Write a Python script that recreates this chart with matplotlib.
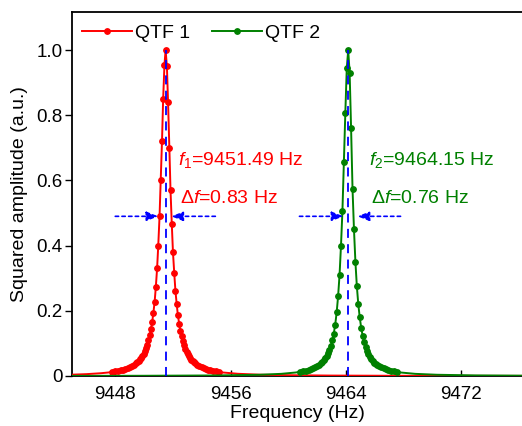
"""
Squared amplitude response of two quartz tuning forks (QTF 1 / QTF 2).
Frequency sweep data read from the reference figure, normalized to peak = 1.
"""

import matplotlib
matplotlib.use("Agg")
import matplotlib.pyplot as plt

plt.rcParams["font.family"] = ["Liberation Sans", "DejaVu Sans"]
plt.rcParams["mathtext.fontset"] = "custom"
plt.rcParams["mathtext.rm"] = "Liberation Sans"
plt.rcParams["mathtext.it"] = "Liberation Sans:italic"

# ---------------------------------------------------------------------------
# Data
# ---------------------------------------------------------------------------
F1 = 9451.49
F2 = 9464.15
DF1 = 0.83
DF2 = 0.76

qtf1_freq = [
    9445.0, 9446.0, 9447.0, 9447.5, 9447.8, 9448.0, 9448.2, 9448.4,
    9448.55, 9448.7, 9448.85, 9449.0, 9449.15, 9449.3,
    9449.45, 9449.54, 9449.62, 9449.71, 9449.79, 9449.88, 9449.96, 9450.05,
    9450.13, 9450.22, 9450.30, 9450.39, 9450.47, 9450.56, 9450.64, 9450.73,
    9450.81, 9450.90, 9450.98, 9451.07, 9451.15, 9451.24, 9451.32, 9451.41,
    9451.49,
    9451.58, 9451.66, 9451.75, 9451.83, 9451.92, 9452.00, 9452.09, 9452.17,
    9452.26, 9452.34, 9452.43, 9452.51, 9452.60, 9452.68, 9452.77, 9452.85,
    9452.94, 9453.02, 9453.11, 9453.19, 9453.28, 9453.36, 9453.45, 9453.53,
    9453.68, 9453.83, 9453.98, 9454.13, 9454.28, 9454.43, 9454.58, 9454.78,
    9454.98, 9455.18, 9455.5, 9456.5, 9458.0, 9460.0, 9463.0,
    9467.0, 9471.0, 9476.3,
]
qtf1_amp = [
    0.0041, 0.0057, 0.0085, 0.0107, 0.0125, 0.014, 0.0157, 0.0177,
    0.0195, 0.0216, 0.0241, 0.027, 0.0305, 0.0346,
    0.040, 0.043, 0.047, 0.051, 0.056, 0.062, 0.069, 0.077,
    0.086, 0.096, 0.109, 0.125, 0.143, 0.166, 0.193, 0.228,
    0.272, 0.33, 0.40, 0.49, 0.60, 0.72, 0.85, 0.955,
    1.0,
    0.95, 0.84, 0.70, 0.57, 0.465, 0.38, 0.315, 0.262,
    0.22, 0.187, 0.161, 0.139, 0.122, 0.107, 0.094, 0.084,
    0.075, 0.068, 0.061, 0.055, 0.050, 0.046, 0.042, 0.039,
    0.0346, 0.0305, 0.027, 0.0241, 0.0216, 0.0195, 0.0177, 0.0157,
    0.014, 0.0125, 0.0106, 0.0068, 0.0040, 0.0024, 0.0013,
    0.0007, 0.00045, 0.0003,
]

qtf2_freq = [
    9445.0, 9450.0, 9455.0, 9458.0, 9459.5, 9460.5, 9460.8, 9461.0,
    9461.2, 9461.4, 9461.55, 9461.7, 9461.85, 9462.0,
    9462.15, 9462.25, 9462.35, 9462.45, 9462.55, 9462.65, 9462.75, 9462.85,
    9462.95, 9463.05, 9463.15, 9463.25, 9463.35, 9463.45, 9463.55, 9463.65,
    9463.75, 9463.85, 9463.95, 9464.05,
    9464.15,
    9464.25, 9464.35, 9464.45, 9464.55, 9464.65, 9464.75, 9464.85, 9464.95,
    9465.05, 9465.15, 9465.25, 9465.35, 9465.45, 9465.55, 9465.65, 9465.75,
    9465.85, 9465.95, 9466.05, 9466.15,
    9466.3, 9466.45, 9466.6, 9466.75, 9466.9, 9467.1, 9467.3, 9467.5,
    9467.8, 9468.8, 9470.3, 9473.0, 9476.3,
]
qtf2_amp = [
    0.0004, 0.0007, 0.0017, 0.0038, 0.0066, 0.0107, 0.0127, 0.0143,
    0.0163, 0.0187, 0.0209, 0.0235, 0.0266, 0.0303,
    0.035, 0.039, 0.043, 0.048, 0.054, 0.061, 0.070, 0.080,
    0.093, 0.109, 0.13, 0.158, 0.195, 0.245, 0.31, 0.40,
    0.507, 0.656, 0.806, 0.944,
    1.0,
    0.93, 0.76, 0.574, 0.45, 0.35, 0.275, 0.22, 0.18,
    0.148, 0.124, 0.105, 0.090, 0.078, 0.068, 0.059, 0.052,
    0.046, 0.041, 0.037, 0.034,
    0.0303, 0.0266, 0.0235, 0.0209, 0.0187, 0.0163, 0.0143, 0.0127,
    0.0107, 0.0066, 0.0038, 0.0018, 0.001,
]

xticks = [9448, 9456, 9464, 9472]
yticks = [0, 0.2, 0.4, 0.6, 0.8, 1.0]
ytick_labels = ["0", "0.2", "0.4", "0.6", "0.8", "1.0"]

# half-maximum arrows: (tail, head) frequencies
half_y = 0.49
qtf1_arrows = [(9448.0, 9450.98), (9454.94, 9451.89)]
qtf2_arrows = [(9460.77, 9463.82), (9467.78, 9464.80)]

RED = "#ff0000"
GREEN = "#008000"
BLUE = "#0000ff"

# ---------------------------------------------------------------------------
# Figure
# ---------------------------------------------------------------------------
fig = plt.figure(figsize=(5.22, 4.26), dpi=100)
ax = fig.add_axes([72 / 522, 1 - 376 / 426, 450 / 522, 364 / 426])


def marker_mask(amps, cut=0.0115):
    # the sweep points merge into a plain line far out in the wings
    return [a > cut for a in amps]


ax.plot(qtf1_freq, qtf1_amp, "-o", color=RED, lw=1.4, ms=3.9,
        markevery=marker_mask(qtf1_amp), label="QTF 1", zorder=3)
ax.plot(qtf2_freq, qtf2_amp, "-o", color=GREEN, lw=1.4, ms=3.9,
        markevery=marker_mask(qtf2_amp), label="QTF 2", zorder=4)

for f0 in (F1, F2):
    ax.plot([f0, f0], [0, 1.0], color=BLUE, lw=1.3, dashes=(5, 3.5), zorder=5)

for tail, head in qtf1_arrows + qtf2_arrows:
    ax.annotate("", xy=(head, half_y), xytext=(tail, half_y),
                arrowprops=dict(arrowstyle="-|>,head_length=0.5,head_width=0.2",
                                color=BLUE, lw=1.2, linestyle=(0, (2, 2)),
                                shrinkA=0, shrinkB=0, mutation_scale=14),
                zorder=6)

ax.text(9452.37, 0.663, r"$\mathit{f}_1$=%.2f Hz" % F1, color=RED,
        fontsize=14, va="center", ha="left")
ax.text(9452.51, 0.546, r"$\Delta\mathit{f}$=%.2f Hz" % DF1, color=RED,
        fontsize=14, va="center", ha="left")
ax.text(9465.56, 0.663, r"$\mathit{f}_2$=%.2f Hz" % F2, color=GREEN,
        fontsize=14, va="center", ha="left")
ax.text(9465.70, 0.546, r"$\Delta\mathit{f}$=%.2f Hz" % DF2, color=GREEN,
        fontsize=14, va="center", ha="left")

ax.set_xlim(9445.0, 9476.2)
ax.set_ylim(0, 1.117)
ax.set_xticks(xticks)
ax.set_yticks(yticks)
ax.set_yticklabels(ytick_labels)
ax.tick_params(axis="x", direction="in", length=4, width=1, labelsize=13.5, pad=7)
ax.tick_params(axis="y", direction="out", length=5, width=1, labelsize=13.5, pad=2)

ax.set_xlabel("Frequency (Hz)", fontsize=14, labelpad=2)
ax.set_ylabel("Squared amplitude (a.u.)", fontsize=14, labelpad=6)

for side in ("left", "bottom", "top"):
    ax.spines[side].set_linewidth(1.3)
ax.spines["right"].set_visible(False)

ax.legend(loc="upper left", bbox_to_anchor=(0.022, 0.967), ncol=2, frameon=False,
          fontsize=14, numpoints=1, handlelength=2.6, handletextpad=0.15,
          columnspacing=1.1, borderaxespad=0, borderpad=0)

fig.savefig("out.png", dpi=100)
